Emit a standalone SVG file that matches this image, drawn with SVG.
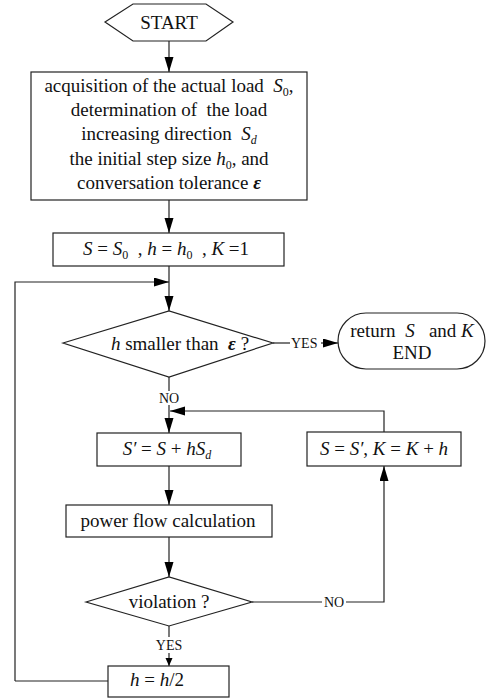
<svg xmlns="http://www.w3.org/2000/svg" width="487" height="699" viewBox="0 0 487 699">
<style>
.s{fill:#fff;stroke:#222;stroke-width:1.2}
.l{fill:none;stroke:#222;stroke-width:1.2}
text{font-family:"Liberation Serif","Times New Roman",serif;font-size:19px;fill:#111;white-space:pre}
.c{text-anchor:middle}
.i{font-style:italic}
.sub{font-size:12px}
.lab{font-size:14px}
</style>
<defs>
<marker id="a" markerUnits="userSpaceOnUse" markerWidth="16" markerHeight="10" refX="15" refY="4.5" orient="auto"><path d="M0,0 L15,4.5 L0,9 z" fill="#000"/></marker>
<marker id="b" markerUnits="userSpaceOnUse" markerWidth="10" markerHeight="8" refX="8" refY="3.5" orient="auto"><path d="M0,0 L8,3.5 L0,7 z" fill="#000"/></marker>
</defs>
<g id="connectors">
<path class="l" d="M169,41 V72" marker-end="url(#a)"/>
<path class="l" d="M169,200 V233" marker-end="url(#a)"/>
<path class="l" d="M169,266 V311" marker-end="url(#a)"/>
<path class="l" d="M15,681 H108 M15,681 V282 H169" marker-end="url(#a)"/>
<path class="l" d="M273,343 H290"/>
<path class="l" d="M321,343 H338" marker-end="url(#a)"/>
<path class="l" d="M169,377 V391"/>
<path class="l" d="M169,405 V433" marker-end="url(#a)"/>
<path class="l" d="M384,432 V411 H170" marker-end="url(#a)"/>
<path class="l" d="M169,466 V505" marker-end="url(#a)"/>
<path class="l" d="M169,537 V577" marker-end="url(#a)"/>
<path class="l" d="M252,602 H322"/>
<path class="l" d="M346,602 H384 V466" marker-end="url(#a)"/>
<path class="l" d="M169,626 V637"/>
<path class="l" d="M169,653 V666" marker-end="url(#b)"/>
<text class="lab" x="291" y="348">YES</text>
<text class="lab c" x="169" y="403">NO</text>
<text class="lab c" x="334" y="607">NO</text>
<text class="lab c" x="169" y="650">YES</text>
</g>
<g id="start">
<polygon class="s" points="105,22 133,4 206,4 233,22 206,41 133,41"/>
<text class="c" x="169" y="29">START</text>
</g>
<g id="init">
<rect class="s" x="31" y="72" width="276" height="128"/>
<text class="c" x="169" y="92">acquisition of the actual load  <tspan class="i">S</tspan><tspan class="sub" dy="4">0</tspan><tspan dy="-4">,</tspan></text>
<text class="c" x="169" y="116">determination of  the load</text>
<text class="c" x="169" y="140">increasing direction  <tspan class="i">S</tspan><tspan class="sub i" dy="4">d</tspan></text>
<text class="c" x="169" y="165">the initial step size <tspan class="i">h</tspan><tspan class="sub" dy="4">0</tspan><tspan dy="-4">, and</tspan></text>
<text class="c" x="169" y="189">conversation tolerance <tspan class="i" font-weight="bold">ε</tspan></text>
</g>
<g id="setvars">
<rect class="s" x="53" y="233" width="231" height="33"/>
<text class="c" x="166" y="255"><tspan class="i">S</tspan> = <tspan class="i">S</tspan><tspan class="sub" dy="4">0</tspan><tspan dy="-4">  , </tspan><tspan class="i">h</tspan> = <tspan class="i">h</tspan><tspan class="sub" dy="4">0</tspan><tspan dy="-4">  , </tspan><tspan class="i">K</tspan> =1</text>
</g>
<g id="check-h">
<polygon class="s" points="63,343 169,311 273,343 169,377"/>
<text class="c" x="180" y="350"><tspan class="i">h</tspan> smaller than  <tspan class="i" font-weight="bold">ε</tspan> ?</text>
</g>
<g id="end">
<rect class="s" x="338" y="313" width="147" height="56" rx="28" ry="28"/>
<text class="c" x="412" y="337">return  <tspan class="i">S</tspan>   and <tspan class="i">K</tspan></text>
<text class="c" x="412" y="359">END</text>
</g>
<g id="update-s">
<rect class="s" x="97" y="433" width="144" height="33"/>
<text class="c" x="167" y="455"><tspan class="i">S′</tspan> = <tspan class="i">S</tspan> + <tspan class="i">hS</tspan><tspan class="sub i" dy="4">d</tspan></text>
</g>
<g id="accept">
<rect class="s" x="307" y="432" width="154" height="34"/>
<text class="c" x="384" y="455"><tspan class="i">S</tspan> = <tspan class="i">S′</tspan>, <tspan class="i">K</tspan> = <tspan class="i">K</tspan> + <tspan class="i">h</tspan></text>
</g>
<g id="powerflow">
<rect class="s" x="66" y="505" width="206" height="32"/>
<text class="c" x="168" y="527">power flow calculation</text>
</g>
<g id="violation">
<polygon class="s" points="86,602 169,577 252,602 169,626"/>
<text class="c" x="169" y="608">violation ?</text>
</g>
<g id="halve">
<rect class="s" x="108" y="666" width="121" height="31"/>
<text class="c" x="157" y="686"><tspan class="i">h</tspan> = <tspan class="i">h</tspan>/2</text>
</g>
</svg>
